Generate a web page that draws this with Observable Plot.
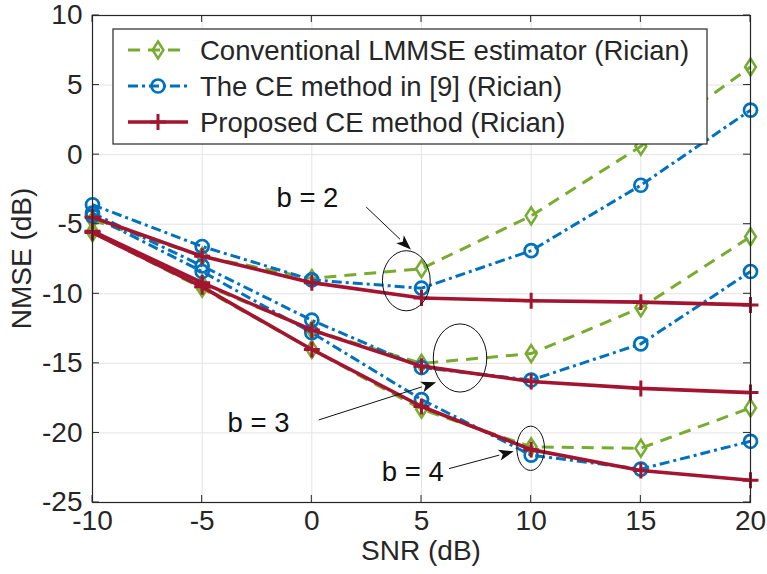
<!DOCTYPE html>
<html><head><meta charset="utf-8">
<script src="https://cdn.jsdelivr.net/npm/d3@7"></script>
<script src="https://cdn.jsdelivr.net/npm/@observablehq/plot@0.6"></script>
<style>body{margin:0;background:#fff}</style>
</head><body><div id="chart"></div>
<script>
// ---------- data ----------
const snr = [-10, -5, 0, 5, 10, 15, 20];
const lmmseB2 = [-4.7, -7.3, -8.9, -8.2, -4.4, 0.6, 6.3];
const lmmseB3 = [-5.5, -9.3, -12.6, -15.0, -14.3, -11.0, -5.9];
const lmmseB4 = [-5.6, -9.6, -14.0, -18.3, -21.0, -21.1, -18.2];
const ref9B2 = [-3.6, -6.6, -9.0, -9.6, -6.9, -2.2, 3.2];
const ref9B3 = [-4.2, -8.0, -11.9, -15.3, -16.2, -13.6, -8.4];
const ref9B4 = [-4.4, -8.4, -12.8, -17.6, -21.6, -22.6, -20.6];
const propB2 = [-4.5, -7.3, -9.2, -10.3, -10.5, -10.6, -10.8];
const propB3 = [-5.5, -9.2, -12.6, -15.2, -16.3, -16.8, -17.1];
const propB4 = [-5.6, -9.5, -14.0, -18.1, -21.2, -22.7, -23.4];
const xTicks = [-10, -5, 0, 5, 10, 15, 20];
const yTicks = [10, 5, 0, -5, -10, -15, -20, -25];
const methods = ["Conventional LMMSE estimator (Rician)", "The CE method in [9] (Rician)", "Proposed CE method (Rician)"];
const bits = [2, 3, 4];
const annoLabels = ["b = 2", "b = 3", "b = 4"];
// annotation anchors in data units
const annoTextX = [-0.2, -2.43, 4.6];
const annoTextY = [-3.1, -19.3, -22.8];
const ellCx = [4.33, 6.78, 10.0];
const ellCy = [-9.1, -14.65, -21.14];
const ellRx = [1.09, 1.22, 0.63];
const ellRy = [2.16, 2.45, 1.59];
const arrFromX = [2.5, 0.34, 6.28];
const arrFromY = [-3.8, -19.1, -22.6];
const arrToX = [4.54, 5.69, 9.23];
const arrToY = [-6.86, -16.4, -21.35];

// ---------- styles ----------
const colors = ["#77AC30", "#0072BD", "#A2142F"];
const dashes = ["12,8", "10,4,3,4", null];
const ink = "#262626";
const FONT = "'Liberation Sans', Arial, Helvetica, sans-serif";
const FS = 28;
const LFS = 27.5;

const series = [[lmmseB2, lmmseB3, lmmseB4], [ref9B2, ref9B3, ref9B4], [propB2, propB3, propB4]];
const rows = [];
series.forEach((grp, m) => grp.forEach((vals, bi) => vals.forEach((v, i) =>
  rows.push({snr: snr[i], nmse: v, method: methods[m], b: bits[bi]}))));

const tallDiamond = {draw(ctx, size) { const r = Math.sqrt(size / Math.PI);
  ctx.moveTo(0, -r * 1.25); ctx.lineTo(r * 0.8, 0); ctx.lineTo(0, r * 1.25); ctx.lineTo(-r * 0.8, 0); ctx.closePath(); }};
const symbols = [tallDiamond, "circle", "plus"];
const radii = [6.8, 6.5, 5.2];
const symW = [2.5, 2.7, 3];

const fmt = d => String(d);
const marks = [
  Plot.gridX(xTicks, {stroke: "#e3e3e3", strokeOpacity: 1}),
  Plot.gridY(yTicks, {stroke: "#e3e3e3", strokeOpacity: 1}),
  Plot.axisX(xTicks, {tickSize: 0, tickPadding: 8, label: null, fontSize: FS, fill: ink, tickFormat: fmt}),
  Plot.axisY(yTicks, {tickSize: 0, tickPadding: 10, label: null, fontSize: FS, fill: ink, tickFormat: fmt}),
];
methods.forEach((m, k) => {
  const d = rows.filter(r => r.method === m);
  marks.push(Plot.line(d, {x: "snr", y: "nmse", z: "b", stroke: colors[k], strokeWidth: k === 2 ? 3.6 : 3,
    strokeDasharray: dashes[k], strokeLinecap: "butt", strokeLinejoin: "round"}));
  marks.push(Plot.dot(d, {x: "snr", y: "nmse", symbol: () => symbols[k], r: radii[k],
    stroke: colors[k], strokeWidth: symW[k], fill: "none"}));
});
const anno = annoLabels.map((t, i) => ({t, x: annoTextX[i], y: annoTextY[i]}));
marks.push(Plot.text(anno, {x: "x", y: "y", text: "t", fontSize: LFS, fill: "#111", fontFamily: FONT}));
marks.push(Plot.frame({stroke: ink, strokeWidth: 1.2}));

const plot = Plot.plot({
  width: 767, height: 574,
  marginLeft: 92, marginRight: 17, marginTop: 15, marginBottom: 72,
  x: {domain: [-10, 20]},
  y: {domain: [-25, 10]},
  symbol: {type: "identity"},
  style: {fontFamily: FONT, fontSize: FS + "px", background: "#fff", color: ink},
  marks
});
document.getElementById("chart").append(plot);

// ---------- overlays drawn with the plot's own scales ----------
const X = plot.scale("x").apply, Y = plot.scale("y").apply;
const svg = d3.select(plot);
const g = svg.append("g");
// inward ticks on all four sides
const tl = 7;
xTicks.forEach(t => {
  g.append("line").attr("x1", X(t)).attr("x2", X(t)).attr("y1", Y(-25)).attr("y2", Y(-25) - tl).attr("stroke", ink);
  g.append("line").attr("x1", X(t)).attr("x2", X(t)).attr("y1", Y(10)).attr("y2", Y(10) + tl).attr("stroke", ink);
});
yTicks.forEach(t => {
  g.append("line").attr("y1", Y(t)).attr("y2", Y(t)).attr("x1", X(-10)).attr("x2", X(-10) + tl).attr("stroke", ink);
  g.append("line").attr("y1", Y(t)).attr("y2", Y(t)).attr("x1", X(20)).attr("x2", X(20) - tl).attr("stroke", ink);
});
// ellipses
ellCx.forEach((cx, i) => {
  g.append("ellipse").attr("cx", X(cx)).attr("cy", Y(ellCy[i]))
    .attr("rx", X(cx + ellRx[i]) - X(cx)).attr("ry", Y(ellCy[i] - ellRy[i]) - Y(ellCy[i]))
    .attr("fill", "none").attr("stroke", "#111").attr("stroke-width", 1);
});
// arrows with filled heads
arrFromX.forEach((fx, i) => {
  const x1 = X(fx), y1 = Y(arrFromY[i]), x2 = X(arrToX[i]), y2 = Y(arrToY[i]);
  const a = Math.atan2(y2 - y1, x2 - x1), L = 15, W = 5.5;
  const bx = x2 - L * Math.cos(a), by = y2 - L * Math.sin(a);
  g.append("line").attr("x1", x1).attr("y1", y1).attr("x2", bx).attr("y2", by).attr("stroke", "#111").attr("stroke-width", 1);
  g.append("path").attr("d", `M${x2},${y2}L${bx + W * Math.sin(a)},${by - W * Math.cos(a)}L${bx + L*0.25*Math.cos(a)},${by + L*0.25*Math.sin(a)}L${bx - W * Math.sin(a)},${by + W * Math.cos(a)}Z`).attr("fill", "#111");
});
// axis titles
svg.append("text").attr("x", (X(-10) + X(20)) / 2).attr("y", 560).attr("text-anchor", "middle")
  .attr("font-size", FS).attr("fill", ink).attr("font-family", FONT).text("SNR (dB)");
svg.append("text").attr("transform", `translate(31,${(Y(10) + Y(-25)) / 2}) rotate(-90)`).attr("text-anchor", "middle")
  .attr("font-size", FS).attr("fill", ink).attr("font-family", FONT).text("NMSE (dB)");
// legend
const lg = svg.append("g");
lg.append("rect").attr("x", 113).attr("y", 29).attr("width", 594).attr("height", 115)
  .attr("fill", "#fff").attr("stroke", ink).attr("stroke-width", 1.2);
methods.forEach((m, k) => {
  const yy = 50 + k * 36;
  lg.append("line").attr("x1", 128).attr("x2", 188).attr("y1", yy).attr("y2", yy)
    .attr("stroke", colors[k]).attr("stroke-width", k === 2 ? 3.6 : 3).attr("stroke-dasharray", dashes[k]);
  const sym = typeof symbols[k] === "string" ? (symbols[k] === "circle" ? d3.symbolCircle : d3.symbolPlus) : symbols[k];
  lg.append("path").attr("transform", `translate(158,${yy})`)
    .attr("d", d3.symbol(sym, Math.PI * radii[k] * radii[k])())
    .attr("fill", "none").attr("stroke", colors[k]).attr("stroke-width", symW[k]);
  lg.append("text").attr("x", 200).attr("y", yy).attr("dy", "0.35em").attr("font-size", LFS)
    .attr("text-anchor", "start").attr("fill", ink).attr("font-family", FONT).text(m);
});
</script>
</body></html>
